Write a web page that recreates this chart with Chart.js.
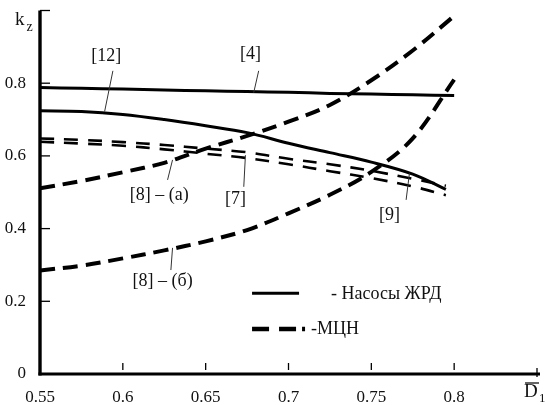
<!DOCTYPE html>
<html>
<head>
<meta charset="utf-8">
<script src="https://cdn.jsdelivr.net/npm/chart.js@4"></script>
<style>
  html, body { margin: 0; padding: 0; background: #fff; }
  #wrap { width: 546px; height: 405px; position: relative; }
</style>
</head>
<body>
<div id="wrap"><canvas id="chart"></canvas></div>
<script>
/* ── data ──────────────────────────────────────────────────── */
const xTicks = [0.55, 0.6, 0.65, 0.7, 0.75, 0.8, 0.85];
const yTicks = [0, 0.2, 0.4, 0.6, 0.8, 1.0];

// x grids: long curves end at 0.8, the lower bundle a bit earlier
const xsLong  = [0.55, 0.575, 0.6, 0.625, 0.65, 0.675, 0.7, 0.725, 0.75, 0.775, 0.8];
const xsShort = [0.55, 0.575, 0.6, 0.625, 0.65, 0.675, 0.7, 0.725, 0.75, 0.775, 0.795];

// solid — rocket-engine pumps (Насосы ЖРД)
const ref4  = [0.788, 0.786, 0.784, 0.781, 0.779, 0.777, 0.775, 0.772, 0.770, 0.768, 0.766];
const ref12 = [0.724, 0.722, 0.714, 0.700, 0.683, 0.664, 0.635, 0.609, 0.583, 0.550, 0.508];
// dashed — centrifugal pumps (МЦН)
const ref7  = [0.648, 0.644, 0.638, 0.630, 0.620, 0.610, 0.592, 0.577, 0.559, 0.537, 0.518];
const ref9  = [0.639, 0.634, 0.628, 0.618, 0.606, 0.594, 0.577, 0.558, 0.539, 0.516, 0.492];
const ref8a = [0.511, 0.531, 0.555, 0.581, 0.620, 0.655, 0.694, 0.740, 0.808, 0.890, 0.985];
const ref8b = [0.285, 0.298, 0.318, 0.340, 0.365, 0.396, 0.442, 0.493, 0.556, 0.648, 0.810];

// callouts: label text, label centre, leader line ends (data units)
const noteText = ['[12]', '[4]', '[8] – (а)', '[7]', '[9]', '[8] – (б)'];
const noteAt   = [[0.590, 0.875], [0.677, 0.880], [0.622, 0.491], [0.668, 0.481], [0.761, 0.437], [0.624, 0.256]];
const noteLine = [
  [0.594, 0.834, 0.589, 0.722],
  [0.682, 0.834, 0.679, 0.774],
  [0.630, 0.589, 0.627, 0.534],
  [0.674, 0.602, 0.673, 0.515],
  [0.773, 0.552, 0.771, 0.479],
  [0.630, 0.347, 0.629, 0.286],
];

const legendText = ['- Насосы ЖРД', '-МЦН'];

const SERIF = '"Liberation Serif", "DejaVu Serif", serif';
const INK = '#111';

const pts = (xs, ys) => xs.map((x, i) => ({ x, y: ys[i] }));

const solid  = { borderColor: '#000', borderWidth: 3, pointRadius: 0, tension: 0.35, fill: false };
const dashed = { borderColor: '#000', borderWidth: 4, borderDash: [15, 8], pointRadius: 0, tension: 0.35, fill: false };
const tube   = { borderColor: '#000', borderWidth: 2.6, borderDash: [14, 10], pointRadius: 0, tension: 0.35, fill: false };

// ── axes, inward ticks, callouts, legend, axis symbols ──
const decor = {
  id: 'decor',
  afterDraw(chart) {
    const { ctx, scales: { x, y } } = chart;
    const px = v => x.getPixelForValue(v);
    const py = v => y.getPixelForValue(v);
    ctx.save();
    ctx.strokeStyle = '#000';
    ctx.fillStyle = '#000';

    // axis lines
    ctx.lineWidth = 3.4;
    ctx.beginPath();
    ctx.moveTo(x.left, y.top);
    ctx.lineTo(x.left, y.bottom + 1.5);
    ctx.stroke();
    ctx.lineWidth = 3;
    ctx.beginPath();
    ctx.moveTo(x.left - 1.5, y.bottom);
    ctx.lineTo(x.right + 3, y.bottom);
    ctx.stroke();

    // inward ticks (the last x tick sits on the axis end)
    ctx.lineWidth = 1.3;
    yTicks.forEach(v => {
      if (v === 0) return;
      ctx.beginPath();
      ctx.moveTo(x.left, py(v));
      ctx.lineTo(x.left + 10, py(v));
      ctx.stroke();
    });
    xTicks.forEach(v => {
      if (v === 0.55) return;
      const top = v > 0.84 ? y.bottom - 6 : y.bottom - 11;
      const bot = v > 0.84 ? y.bottom + 3 : y.bottom - 4;
      ctx.beginPath();
      ctx.moveTo(px(v), bot);
      ctx.lineTo(px(v), top);
      ctx.stroke();
    });

    // callouts
    ctx.lineWidth = 1;
    ctx.strokeStyle = '#333';
    noteLine.forEach(([x1, y1, x2, y2]) => {
      ctx.beginPath();
      ctx.moveTo(px(x1), py(y1));
      ctx.lineTo(px(x2), py(y2));
      ctx.stroke();
    });
    ctx.font = '18px ' + SERIF;
    ctx.fillStyle = INK;
    ctx.textAlign = 'center';
    ctx.textBaseline = 'middle';
    noteText.forEach((t, i) => ctx.fillText(t, px(noteAt[i][0]), py(noteAt[i][1])));

    // legend
    const lx = px(0.678), ly1 = py(0.222), ly2 = py(0.124);
    ctx.strokeStyle = '#000';
    ctx.lineWidth = 3;
    ctx.beginPath();
    ctx.moveTo(lx, ly1);
    ctx.lineTo(lx + 47, ly1);
    ctx.stroke();
    ctx.lineWidth = 4.5;
    ctx.setLineDash([17, 10, 17, 6, 3, 60]);
    ctx.beginPath();
    ctx.moveTo(lx, ly2);
    ctx.lineTo(lx + 54, ly2);
    ctx.stroke();
    ctx.setLineDash([]);
    ctx.textAlign = 'left';
    ctx.fillText(legendText[0], lx + 79, ly1 + 1);
    ctx.fillText(legendText[1], lx + 59, ly2);

    // axis symbols: k_z and D̄1
    ctx.textBaseline = 'alphabetic';
    ctx.font = '19px ' + SERIF;
    ctx.fillText('k', 15, 25);
    ctx.font = '14px ' + SERIF;
    ctx.fillText('z', 26.5, 31);
    ctx.font = '19px ' + SERIF;
    ctx.fillText('D', 524, 397);
    ctx.font = '13px ' + SERIF;
    ctx.fillText('1', 539, 402);
    ctx.lineWidth = 1.2;
    ctx.beginPath();
    ctx.moveTo(525, 383);
    ctx.lineTo(539, 383);
    ctx.stroke();
    ctx.restore();
  }
};

new Chart(document.getElementById('chart'), {
  type: 'line',
  data: {
    datasets: [
      { ...solid,  label: '[4]',     data: pts(xsLong,  ref4) },
      { ...solid,  label: '[12]',    data: pts(xsShort, ref12) },
      { ...tube,   label: '[7]',     data: pts(xsShort, ref7) },
      { ...tube,   label: '[9]',     data: pts(xsShort, ref9) },
      { ...dashed, label: '[8] (а)', data: pts(xsLong,  ref8a) },
      { ...dashed, label: '[8] (б)', data: pts(xsLong,  ref8b) },
    ]
  },
  options: {
    responsive: true, maintainAspectRatio: false,
    animation: false, devicePixelRatio: 1,
    layout: { padding: { left: 0, top: 10.5, right: 9, bottom: 0 } },
    plugins: { legend: { display: false }, tooltip: { enabled: false } },
    scales: {
      x: {
        type: 'linear', min: 0.55, max: 0.85,
        afterBuildTicks: s => { s.ticks = xTicks.map(v => ({ value: v })); },
        afterFit: s => { s.height = 31; s.paddingLeft = 0; s.paddingRight = 0; },
        grid: { display: false, drawTicks: false }, border: { display: false },
        ticks: {
          padding: 13, color: INK, maxRotation: 0, autoSkip: false,
          font: { family: SERIF, size: 17 },
          callback: v => (v > 0.84 ? '' : String(Math.round(v * 100) / 100)),
        },
      },
      y: {
        min: 0, max: 1,
        afterBuildTicks: s => { s.ticks = yTicks.map(v => ({ value: v })); },
        afterFit: s => { s.width = 40; s.paddingTop = 0; s.paddingBottom = 0; },
        grid: { display: false, drawTicks: false }, border: { display: false },
        ticks: {
          padding: 14, color: INK,
          font: { family: SERIF, size: 17 },
          callback: v => (v > 0.9 ? '' : String(Math.round(v * 10) / 10)),
        },
      },
    },
  },
  plugins: [decor],
});
</script>
</body>
</html>
